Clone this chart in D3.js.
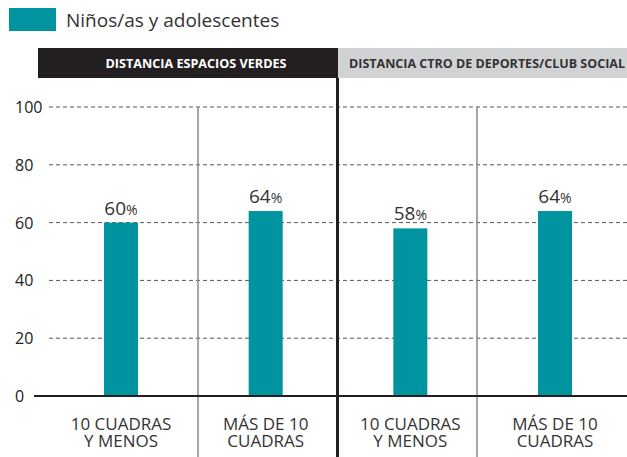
<!DOCTYPE html>
<html>
<head>
<meta charset="utf-8">
<script src="https://cdn.jsdelivr.net/npm/d3@7"></script>
<style>
  body { margin: 0; background: #fff; }
  text { font-family: "Open Sans", "Noto Sans", sans-serif; }
</style>
</head>
<body>
<div id="chart"></div>
<script>
// data
const series_name = "Niños/as y adolescentes";
const groups = ["DISTANCIA ESPACIOS VERDES", "DISTANCIA CTRO DE DEPORTES/CLUB SOCIAL"];
const categories = [["10 CUADRAS", "Y MENOS"], ["MÁS DE 10", "CUADRAS"], ["10 CUADRAS", "Y MENOS"], ["MÁS DE 10", "CUADRAS"]];
const values = [60, 64, 58, 64];
const y_ticks = [0, 20, 40, 60, 80, 100];

const width = 627, height = 457;
const teal = "#0093a0";

const svg = d3.select("#chart").append("svg")
  .attr("width", width)
  .attr("height", height);

// legend
svg.append("rect").attr("x", 9).attr("y", 8).attr("width", 47).attr("height", 23).attr("fill", teal);
svg.append("text").attr("x", 66).attr("y", 27)
  .attr("font-size", 19).attr("fill", "#333")
  .text(series_name);

// scales
const x = d3.scaleBand()
  .domain(d3.range(values.length))
  .range([49, 627])
  .paddingInner(0.765)
  .paddingOuter(0.38);

const y = d3.scaleLinear().domain([0, 100]).range([396, 107]);

// headers
const head = [{x0: 38, x1: 338, fill: "#231f20", color: "#fff", len: 181},
              {x0: 338, x1: 627, fill: "#d1d2d3", color: "#333", len: 276}];
head.forEach((h, i) => {
  svg.append("rect").attr("x", h.x0).attr("y", 48).attr("width", h.x1 - h.x0).attr("height", 30).attr("fill", h.fill);
  svg.append("text")
    .attr("x", i == 0 ? 196 : (h.x0 + 11 + h.len / 2))
    .attr("y", 68)
    .attr("text-anchor", "middle")
    .attr("font-size", 11.5).attr("font-weight", "bold")
    .attr("fill", h.color)
    .attr("textLength", h.len).attr("lengthAdjust", "spacingAndGlyphs")
    .text(groups[i]);
});

// grid lines
svg.append("g").selectAll("line")
  .data(y_ticks.filter(d => d > 0))
  .enter().append("line")
    .attr("x1", 49).attr("x2", 627)
    .attr("y1", d => y(d)).attr("y2", d => y(d))
    .attr("stroke", "#555").attr("stroke-width", 1)
    .attr("stroke-dasharray", "4,3");

// y tick labels
svg.append("g").selectAll("text")
  .data(y_ticks)
  .enter().append("text")
    .attr("x", 15).attr("y", d => y(d) + 6)
    .attr("font-size", 16).attr("fill", "#222")
    .text(d => d);

// separators
[198, 477].forEach(sx => {
  svg.append("line").attr("x1", sx).attr("x2", sx).attr("y1", y(100)).attr("y2", height)
    .attr("stroke", "#8a8a8a").attr("stroke-width", 1.5);
});
svg.append("line").attr("x1", 337.5).attr("x2", 337.5).attr("y1", 78).attr("y2", height)
  .attr("stroke", "#231f20").attr("stroke-width", 3);

// bars
svg.append("g").selectAll("rect")
  .data(values)
  .enter().append("rect")
    .attr("x", (d, i) => x(i))
    .attr("y", d => y(d))
    .attr("width", x.bandwidth())
    .attr("height", d => y(0) - y(d))
    .attr("fill", teal);

// value labels
const lab = svg.append("g").selectAll("text")
  .data(values)
  .enter().append("text")
    .attr("x", (d, i) => x(i) + x.bandwidth() / 2)
    .attr("y", d => y(d) - 8)
    .attr("text-anchor", "middle")
    .attr("fill", "#333");
lab.append("tspan").attr("font-size", 19).text(d => d);
lab.append("tspan").attr("font-size", 14).text("%");

// zero axis
svg.append("line").attr("x1", 34).attr("x2", 627).attr("y1", y(0)).attr("y2", y(0))
  .attr("stroke", "#231f20").attr("stroke-width", 2);

// category labels, one text per line
categories.forEach((c, i) => {
  c.forEach((line, j) => {
    svg.append("text")
      .attr("x", x(i) + x.bandwidth() / 2)
      .attr("y", 430 + j * 17)
      .attr("text-anchor", "middle")
      .attr("font-size", 17).attr("fill", "#333")
      .text(line);
  });
});
</script>
</body>
</html>
